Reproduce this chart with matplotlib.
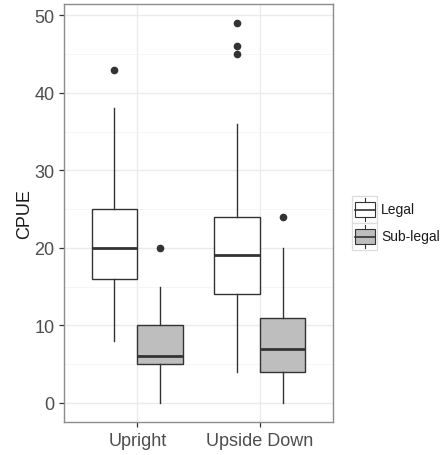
import matplotlib
matplotlib.use("Agg")
import matplotlib.pyplot as plt
from matplotlib.patches import Rectangle
from matplotlib.lines import Line2D

plt.rcParams['font.family'] = ['Liberation Sans', 'DejaVu Sans']

categories = ["Upright", "Upside Down"]
groups = ["Legal", "Sub-legal"]
fills = ["#FFFFFF", "#BEBEBE"]

# per category, per group: whislo, q1, med, q3, whishi, outliers
whislo = {"Legal": [8, 4], "Sub-legal": [0, 0]}
q1 = {"Legal": [16, 14], "Sub-legal": [5, 4]}
med = {"Legal": [20, 19.1], "Sub-legal": [6, 7]}
q3 = {"Legal": [25, 24], "Sub-legal": [10, 11]}
whishi = {"Legal": [38, 36], "Sub-legal": [15, 20]}
fliers = {"Legal": [[43], [45, 46, 49]], "Sub-legal": [[20], [24]]}

W, H = 447, 456
fig = plt.figure(figsize=(W / 100, H / 100), dpi=100)
ax = fig.add_axes([64/W, 33/H, 269/W, 418/H])

edge = "#333333"
dodge = 0.75
bw = 0.375
for gi, g in enumerate(groups):
    stats = []
    for ci in range(len(categories)):
        stats.append(dict(whislo=whislo[g][ci], q1=q1[g][ci], med=med[g][ci],
                          q3=q3[g][ci], whishi=whishi[g][ci], fliers=fliers[g][ci]))
    pos = [ci + 1 + (gi - 0.5) * dodge / 2 for ci in range(len(categories))]
    ax.bxp(stats, positions=pos, widths=bw, patch_artist=True, showcaps=False,
           boxprops=dict(facecolor=fills[gi], edgecolor=edge, linewidth=1.0),
           medianprops=dict(color=edge, linewidth=2.0),
           whiskerprops=dict(color=edge, linewidth=1.0),
           flierprops=dict(marker='o', markerfacecolor=edge, markeredgecolor=edge,
                           markersize=4.5),
           zorder=3)

ax.set_xlim(0.4, 2.6)
ax.set_ylim(-2.45, 51.45)
ax.set_xticks([1, 2])
ax.set_xticklabels(categories)
ax.set_yticks([0, 10, 20, 30, 40, 50])
ax.set_yticks([5, 15, 25, 35, 45], minor=True)
ax.grid(True, which='major', color='#EBEBEB', linewidth=1.0, zorder=0)
ax.grid(True, which='minor', axis='y', color='#F5F5F5', linewidth=0.6, zorder=0)
ax.set_axisbelow(True)
ax.tick_params(axis='both', which='major', labelsize=13, labelcolor='#4D4D4D',
               color='#333333', length=3.5, width=0.9)
ax.tick_params(axis='y', which='minor', length=0)
for s in ax.spines.values():
    s.set_color('#8C8C8C')
    s.set_linewidth(1.0)
ax.set_ylabel("CPUE", fontsize=13, color='#1A1A1A', labelpad=1)

# legend drawn in figure pixel space (top-left origin converted)
def fx(px):
    return px / W

def fy(py):
    return 1 - py / H

key_x0, key_x1 = 352, 377
key_h = 27
key_top = 197
for i, (g, f) in enumerate(zip(groups, fills)):
    t = key_top + i * key_h
    b = t + key_h
    fig.add_artist(Rectangle((fx(key_x0), fy(b)), fx(key_x1) - fx(key_x0), fy(t) - fy(b),
                             facecolor='#FFFFFF', edgecolor='#DCDCDC', linewidth=0.9,
                             transform=fig.transFigure))
    cx = (key_x0 + key_x1) / 2
    bt, bb = t + 6, b - 6
    fig.add_artist(Line2D([fx(cx), fx(cx)], [fy(t + 2), fy(bt)], color=edge, linewidth=0.8,
                          transform=fig.transFigure))
    fig.add_artist(Line2D([fx(cx), fx(cx)], [fy(bb), fy(b - 2)], color=edge, linewidth=0.8,
                          transform=fig.transFigure))
    fig.add_artist(Rectangle((fx(key_x0 + 3), fy(bb)), fx(key_x1 - 2) - fx(key_x0 + 3),
                             fy(bt) - fy(bb), facecolor=f, edgecolor=edge, linewidth=0.8,
                             transform=fig.transFigure))
    fig.add_artist(Line2D([fx(key_x0 + 3), fx(key_x1 - 2)], [fy((bt + bb) / 2)] * 2,
                          color=edge, linewidth=1.2, transform=fig.transFigure))
    fig.text(fx(381), fy((t + b) / 2), g, fontsize=10, color='#1A1A1A',
             ha='left', va='center')

fig.savefig("out.png", dpi=100)
